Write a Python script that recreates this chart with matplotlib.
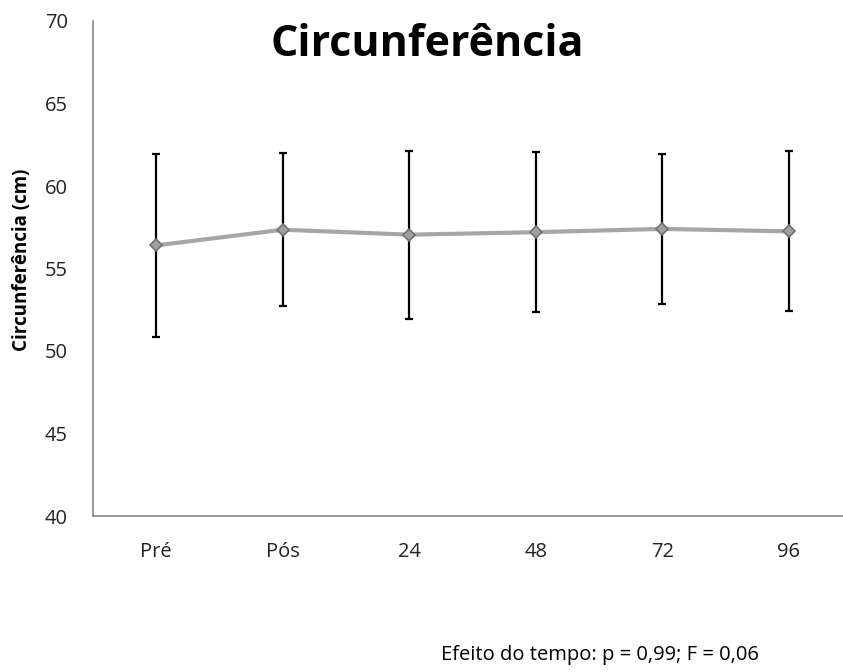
import matplotlib
matplotlib.use("Agg")
import matplotlib.pyplot as plt

categories = ["Pré", "Pós", "24", "48", "72", "96"]
means = [56.4, 57.35, 57.05, 57.2, 57.4, 57.25]
sds = [5.55, 4.65, 5.1, 4.85, 4.55, 4.85]
yticks = [40, 45, 50, 55, 60, 65, 70]

plt.rcParams['font.family'] = ['Open Sans', 'DejaVu Sans']

W, H = 843, 672
fig = plt.figure(figsize=(W / 100, H / 100), dpi=100)
ax = fig.add_axes([93 / W, (H - 516) / H, (852 - 93) / W, (516 - 21) / H])

x = list(range(len(categories)))
ax.errorbar(x, means, yerr=sds, fmt='none', ecolor='black', elinewidth=1.6,
            capsize=3, capthick=1.6, zorder=2)
ax.plot(x, means, color='#A6A6A6', lw=3, zorder=3)
ax.plot(x, means, linestyle='none', marker='D', markersize=6.5,
        markerfacecolor='#A0A0A0', markeredgecolor='#707070', markeredgewidth=1.2, zorder=4)

ax.set_xlim(-0.5, len(categories) - 0.5)
ax.set_ylim(40, 70)
ax.set_yticks(yticks)
ax.set_xticks(x)
ax.set_xticklabels(categories)
ax.tick_params(axis='both', length=0, labelsize=14.5, colors='#222222')
ax.tick_params(axis='y', pad=18)
ax.tick_params(axis='x', pad=19)

for s in ['top', 'right']:
    ax.spines[s].set_visible(False)
for s in ['left', 'bottom']:
    ax.spines[s].set_color('#868686')
    ax.spines[s].set_linewidth(1.2)

fig.text(427 / W, 1 - 45 / H, "Circunferência", ha='center', va='center',
         fontsize=31, fontweight='bold', color='black')
fig.text(22 / W, 1 - 260 / H, "Circunferência (cm)", ha='center', va='center',
         rotation=90, fontsize=13.5, fontweight='bold', color='black')
fig.text(441 / W, 1 - 655 / H, "Efeito do tempo: p = 0,99; F = 0,06", ha='left', va='center',
         fontsize=14.5, color='black')

fig.savefig("out.png", dpi=100)
